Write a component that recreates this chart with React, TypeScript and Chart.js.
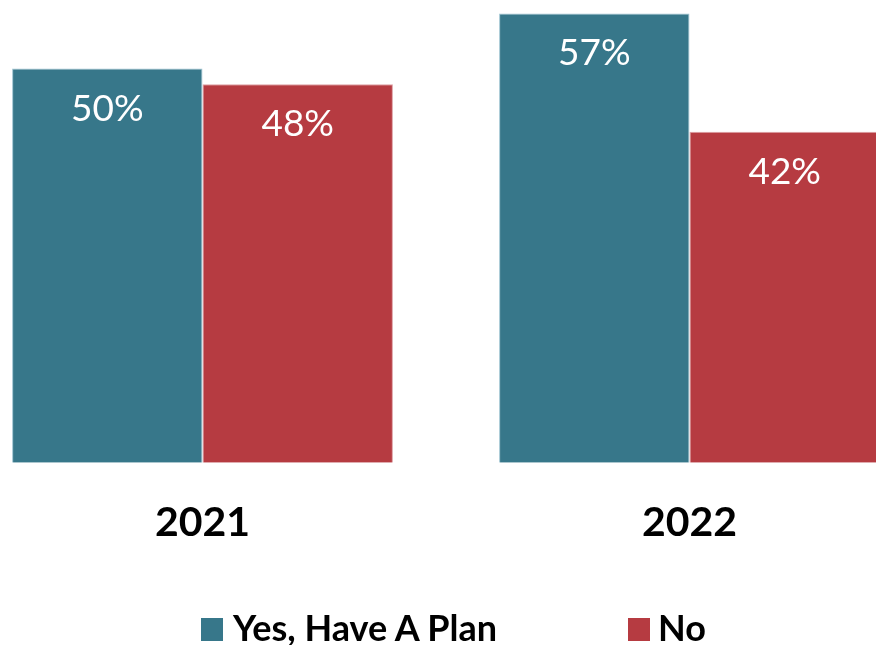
import React, { useEffect, useRef } from "react";
import { Chart, registerables } from "chart.js";

Chart.register(...registerables);

const categories = ["2021", "2022"];
const seriesNames = ["Yes, Have A Plan", "No"];
const yesValues = [50, 57];
const noValues = [48, 42];
const colors = ["#37778A", "#B63B41"];
const borderColors = ["#9EC4D1", "#DDA0A4"];

const FONT = "Lato, 'Open Sans', sans-serif";

const valueLabels = {
  id: "valueLabels",
  afterDatasetsDraw(chart: any) {
    const ctx = chart.ctx;
    ctx.save();
    ctx.fillStyle = "#FFFFFF";
    ctx.font = `400 37px ${FONT}`;
    ctx.textAlign = "center";
    ctx.textBaseline = "alphabetic";
    chart.data.datasets.forEach((ds: any, di: number) => {
      const meta = chart.getDatasetMeta(di);
      meta.data.forEach((bar: any, i: number) => {
        ctx.fillText(`${ds.data[i]}%`, bar.x, bar.y + 52);
      });
    });
    ctx.restore();
  },
};

export default function App() {
  const ref = useRef<HTMLCanvasElement | null>(null);
  useEffect(() => {
    if (!ref.current) return;
    const chart = new Chart(ref.current, {
      type: "bar",
      data: {
        labels: categories,
        datasets: [
          {
            label: seriesNames[0],
            data: yesValues,
            backgroundColor: colors[0],
            borderColor: borderColors[0],
            borderWidth: 1,
            categoryPercentage: 0.782,
            barPercentage: 1,
          },
          {
            label: seriesNames[1],
            data: noValues,
            backgroundColor: colors[1],
            borderColor: borderColors[1],
            borderWidth: 1,
            categoryPercentage: 0.782,
            barPercentage: 1,
          },
        ],
      },
      options: {
        responsive: false,
        animation: false,
        layout: { padding: { left: 0, right: 0, top: 0, bottom: 63 } },
        plugins: {
          legend: { display: false },
          tooltip: { enabled: false },
        },
        scales: {
          x: {
            grid: { display: false, drawTicks: false },
            border: { display: false },
            ticks: {
              color: "#000000",
              font: { family: FONT, size: 41, weight: "bold" },
              padding: 35,
              maxRotation: 0,
              autoSkip: false,
            },
          },
          y: { display: false, min: 0, max: 58.7 },
        },
      },
      plugins: [valueLabels],
    });
    return () => chart.destroy();
  }, []);

  const legendText: React.CSSProperties = {
    position: "absolute",
    fontFamily: FONT,
    fontWeight: 700,
    fontSize: "36px",
    lineHeight: "36px",
    color: "#000",
    whiteSpace: "nowrap",
  };
  const box = (c: string, left: number): React.CSSProperties => ({
    position: "absolute",
    left,
    top: 618,
    width: 22,
    height: 23,
    background: c,
  });

  return (
    <div
      style={{
        position: "fixed",
        left: 0,
        top: 0,
        width: 876,
        height: 645,
        overflow: "hidden",
        background: "#FFFFFF",
      }}
    >
      <canvas
        ref={ref}
        width={974}
        height={645}
        style={{ position: "absolute", left: -41, top: 0, width: 974, height: 645 }}
      />
      <div style={box(colors[0], 201)} />
      <div style={{ ...legendText, left: 233, top: 609 }}>{seriesNames[0]}</div>
      <div style={box(colors[1], 628)} />
      <div style={{ ...legendText, left: 658, top: 609 }}>{seriesNames[1]}</div>
    </div>
  );
}
